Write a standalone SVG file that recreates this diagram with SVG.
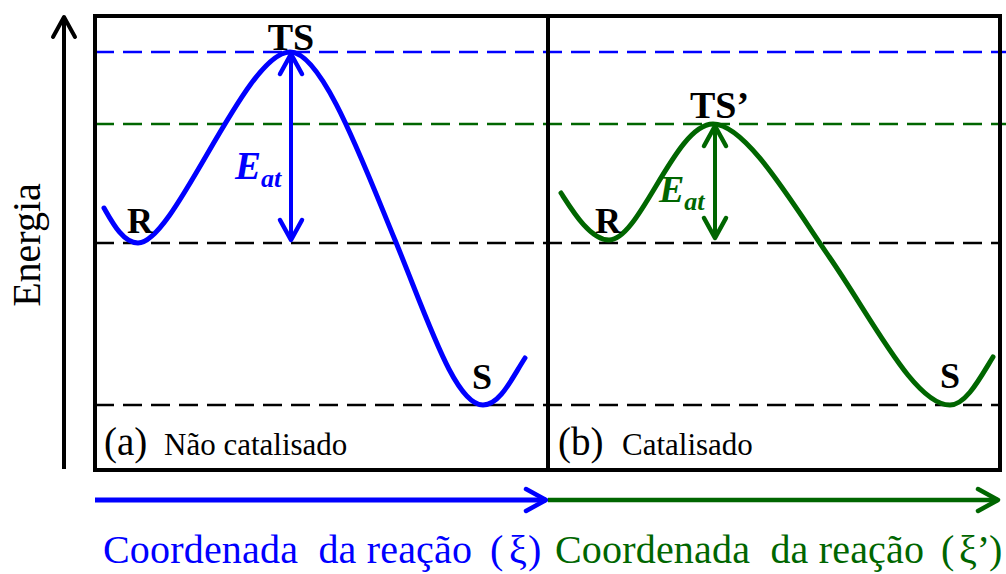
<svg xmlns="http://www.w3.org/2000/svg" width="1006" height="574" viewBox="0 0 1006 574">
<defs>
<style>
text{font-family:"Liberation Serif","Times New Roman",serif;}
.b{font-weight:bold}
.bi{font-weight:bold;font-style:italic}
.dash{stroke-width:2.5;stroke-dasharray:19 9;fill:none}
.curve{fill:none;stroke-width:5;stroke-linecap:round;stroke-linejoin:round}
.blue{stroke:#0000ff}
.green{stroke:#006600}
.k{stroke:#000}
</style>
<marker id="ahK" markerUnits="userSpaceOnUse" markerWidth="30" markerHeight="30" viewBox="-25 -15 30 30" refX="0" refY="0" orient="auto-start-reverse">
<path d="M-20,-11 L0,0 L-20,11" fill="none" stroke="#000" stroke-width="4" stroke-linecap="round" stroke-linejoin="round"/>
</marker>
<marker id="ahB" markerUnits="userSpaceOnUse" markerWidth="30" markerHeight="30" viewBox="-25 -15 30 30" refX="0" refY="0" orient="auto-start-reverse">
<path d="M-20,-11 L0,0 L-20,11" fill="none" stroke="#0000ff" stroke-width="4.5" stroke-linecap="round" stroke-linejoin="round"/>
</marker>
<marker id="ahG" markerUnits="userSpaceOnUse" markerWidth="30" markerHeight="30" viewBox="-25 -15 30 30" refX="0" refY="0" orient="auto-start-reverse">
<path d="M-20,-11 L0,0 L-20,11" fill="none" stroke="#006600" stroke-width="4.5" stroke-linecap="round" stroke-linejoin="round"/>
</marker>
</defs>
<rect width="1006" height="574" fill="#fff"/>

<g id="levels">
<line class="dash blue" x1="95" y1="52" x2="1006" y2="52"/>
<line class="dash green" x1="95" y1="124" x2="1006" y2="124"/>
<line class="dash k" x1="95" y1="243" x2="1000" y2="243"/>
<line class="dash k" x1="95" y1="405" x2="1000" y2="405"/>
</g>

<g id="frame" fill="none" stroke="#000" stroke-width="4">
<rect x="95" y="16" width="905" height="454"/>
<line x1="548" y1="16" x2="548" y2="470"/>
</g>

<g id="connectors">
<line x1="64" y1="469" x2="64" y2="17" stroke="#000" stroke-width="4" marker-end="url(#ahK)"/>
<line x1="95" y1="500" x2="546" y2="500" stroke="#0000ff" stroke-width="5" marker-end="url(#ahB)"/>
<line x1="548" y1="500" x2="998" y2="500" stroke="#006600" stroke-width="4.5" marker-end="url(#ahG)"/>
<line x1="291" y1="240" x2="291" y2="54" stroke="#0000ff" stroke-width="4" marker-start="url(#ahB)" marker-end="url(#ahB)"/>
<line x1="715" y1="238" x2="715" y2="126" stroke="#006600" stroke-width="4" marker-start="url(#ahG)" marker-end="url(#ahG)"/>
</g>

<g id="curve-a">
<path class="curve blue" d="M104,208 C112,222 123,243 138,243 C175,243 245,52 290,52 C322,52 362,160 395,240 C428,320 455,405 483,405 C500,405 512,378 525,358"/>
</g>
<g id="curve-b">
<path class="curve green" d="M561,193 C572,210 590,240 609,240 C640,240 675,124 713,124 C745,124 789,198 830,258 C874,322 915,405 950,405 C966,405 980,378 993,357"/>
</g>

<g id="node-TS"><text class="b" x="291" y="50" font-size="38" text-anchor="middle">TS</text></g>
<g id="node-R-a"><text class="b" x="127" y="233" font-size="36">R</text></g>
<g id="node-S-a"><text class="b" x="472" y="389" font-size="36">S</text></g>
<g id="node-TS2"><text class="b" x="690" y="118" font-size="38">TS’</text></g>
<g id="node-R-b"><text class="b" x="595" y="233" font-size="36">R</text></g>
<g id="node-S-b"><text class="b" x="940" y="388" font-size="36">S</text></g>

<g id="eat-a"><text class="bi" x="235" y="179" font-size="39" fill="#0000ff">E<tspan font-size="26" y="187">at</tspan></text></g>
<g id="eat-b"><text class="bi" x="659" y="202" font-size="38" fill="#006600">E<tspan font-size="26" y="210">at</tspan></text></g>

<g id="panel-a"><text x="104" y="455" font-size="39">(a)</text><text x="164" y="455" font-size="31">Não catalisado</text></g>
<g id="panel-b"><text x="558" y="455" font-size="39">(b)</text><text x="622" y="455" font-size="31">Catalisado</text></g>

<g id="axis-y-label"><text transform="translate(40,245) rotate(-90)" x="0" y="0" font-size="40" text-anchor="middle">Energia</text></g>

<g id="axis-x-labels">
<text y="563" font-size="40" fill="#0000ff" xml:space="preserve"><tspan x="103" textLength="369" lengthAdjust="spacing">Coordenada  da reação</tspan><tspan x="490">(</tspan><tspan x="509">ξ</tspan><tspan x="528">)</tspan></text>
<text y="563" font-size="40" fill="#006600" xml:space="preserve"><tspan x="555" textLength="369" lengthAdjust="spacing">Coordenada  da reação</tspan><tspan x="941">(</tspan><tspan x="959">ξ’</tspan><tspan x="989">)</tspan></text>
</g>
</svg>
